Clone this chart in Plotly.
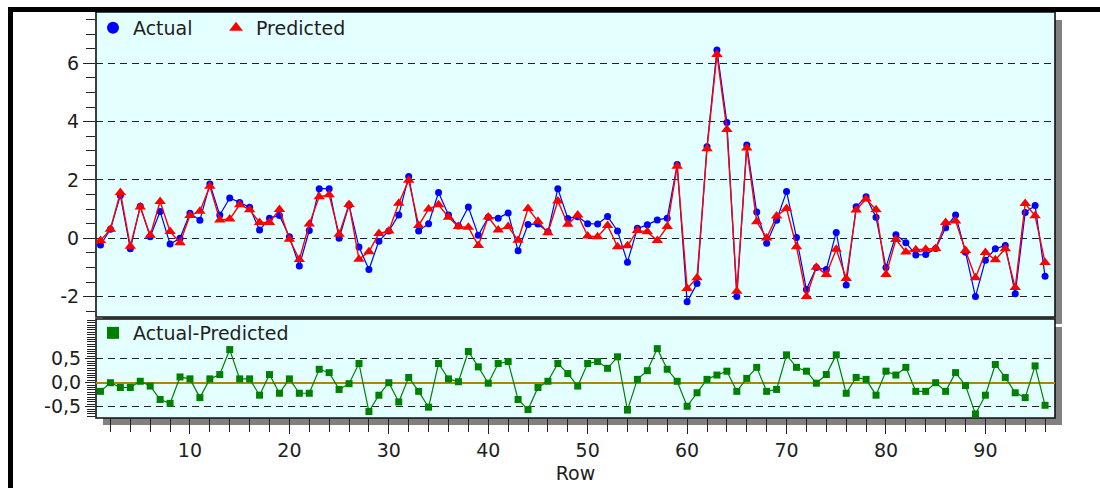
import plotly.graph_objects as go

rows = list(range(1, 97))

actual = [
    -0.23, 0.31, 1.47, -0.36, 1.10, 0.05, 0.92, -0.20, 0.00, 0.86,
    0.62, 1.86, 0.80, 1.38, 1.23, 1.06, 0.28, 0.69, 0.78, 0.05,
    -0.95, 0.27, 1.70, 1.70, 0.00, 1.14, -0.30, -1.07, -0.10, 0.25,
    0.80, 2.12, 0.25, 0.50, 1.57, 0.80, 0.42, 1.07, 0.10, 0.72,
    0.69, 0.87, -0.43, 0.47, 0.49, 0.22, 1.70, 0.68, 0.74, 0.50,
    0.49, 0.75, 0.25, -0.82, 0.34, 0.46, 0.63, 0.69, 2.53, -2.18,
    -1.55, 3.14, 6.46, 3.97, -2.00, 3.20, 0.90, -0.17, 0.62, 1.60,
    0.03, -1.76, -1.00, -1.07, 0.20, -1.60, 1.08, 1.42, 0.72, -1.00,
    0.12, -0.15, -0.57, -0.56, -0.35, 0.36, 0.80, -0.48, -2.00, -0.75,
    -0.36, -0.25, -1.90, 0.88, 1.12, -1.30,
]

predicted = [
    -0.08, 0.31, 1.57, -0.27, 1.07, 0.10, 1.26, 0.23, -0.15, 0.78,
    0.93, 1.78, 0.63, 0.66, 1.15, 0.98, 0.54, 0.54, 0.99, -0.03,
    -0.73, 0.49, 1.42, 1.49, 0.14, 1.16, -0.72, -0.46, 0.16, 0.25,
    1.20, 1.99, 0.44, 1.00, 1.15, 0.72, 0.40, 0.38, -0.25, 0.73,
    0.28, 0.40, -0.07, 1.02, 0.58, 0.19, 1.28, 0.48, 0.80, 0.08,
    0.05, 0.44, -0.29, -0.26, 0.27, 0.22, -0.08, 0.40, 2.47, -1.72,
    -1.35, 3.07, 6.30, 3.73, -1.82, 3.10, 0.57, 0.01, 0.76, 1.02,
    -0.29, -2.00, -0.99, -1.24, -0.38, -1.38, 0.97, 1.35, 0.98, -1.24,
    -0.04, -0.47, -0.39, -0.38, -0.35, 0.54, 0.59, -0.42, -1.35, -0.49,
    -0.74, -0.36, -1.69, 1.19, 0.77, -0.83,
]

residual = [
    -0.18, 0.00, -0.10, -0.10, 0.03, -0.07, -0.35, -0.43, 0.12, 0.08,
    -0.31, 0.08, 0.17, 0.69, 0.08, 0.08, -0.26, 0.17, -0.22, 0.08,
    -0.22, -0.22, 0.28, 0.21, -0.14, -0.02, 0.40, -0.60, -0.26, 0.00,
    -0.40, 0.11, -0.18, -0.51, 0.40, 0.08, 0.02, 0.65, 0.33, -0.01,
    0.40, 0.44, -0.35, -0.56, -0.10, 0.03, 0.40, 0.19, -0.07, 0.40,
    0.44, 0.30, 0.54, -0.57, 0.07, 0.25, 0.71, 0.28, 0.03, -0.49,
    -0.21, 0.07, 0.16, 0.24, -0.18, 0.09, 0.32, -0.18, -0.14, 0.58,
    0.32, 0.24, -0.01, 0.17, 0.58, -0.22, 0.11, 0.07, -0.26, 0.24,
    0.16, 0.32, -0.18, -0.18, 0.00, -0.18, 0.21, -0.06, -0.65, -0.26,
    0.38, 0.11, -0.21, -0.31, 0.35, -0.47,
]

top_tickvals = [-2, 0, 2, 4, 6]
top_ticktext = ["-2", "0", "2", "4", "6"]
bot_tickvals = [-0.5, 0.0, 0.5]
bot_ticktext = ["-0,5", "0,0", "0,5"]
x_tickvals = [10, 20, 30, 40, 50, 60, 70, 80, 90]

W, H = 1100, 488
FONT = "DejaVu Sans"
TXT = "#1e1e1e"


def fx(p):
    return p / W


def fy(p):
    return 1 - p / H


# panel pixel boxes (left, top, right, bottom)
TOP = (96, 12, 1055, 317)
BOT = (96, 319, 1055, 418)

fig = go.Figure()

series = [
    ("Actual", actual, "#0000FF", "circle", 7, 1.2, "x", "y", "legend", 78),
    ("Predicted", predicted, "#FF0000", "triangle-up", 10, 1.4, "x", "y", "legend", 110),
    ("Actual-Predicted", residual, "#008000", "square", 7, 1.2, "x2", "y2", "legend2", 180),
]
for name, vals, col, sym, msize, lw, xa, ya, leg, lwid in series:
    fig.add_trace(go.Scatter(
        x=rows, y=vals, name=name, mode="lines", showlegend=False,
        line=dict(color=col, width=lw), xaxis=xa, yaxis=ya, hoverinfo="skip",
    ))
    fig.add_trace(go.Scatter(
        x=rows, y=vals, name=name, mode="markers",
        marker=dict(symbol=sym, size=msize, color=col),
        xaxis=xa, yaxis=ya, legend=leg, legendwidth=lwid,
    ))

xrange = [0.55, 97.0]
grid_dash = "7px,5px"

shapes = []
# shadows
for (l, t, r, b) in (TOP, BOT):
    shapes.append(dict(type="rect", xref="paper", yref="paper", layer="below",
                       x0=fx(l + 7), x1=fx(r + 7), y0=fy(t + 8), y1=fy(b + 7),
                       fillcolor="#808080", line=dict(width=0)))
# panels
for (l, t, r, b) in (TOP, BOT):
    shapes.append(dict(type="rect", xref="paper", yref="paper", layer="below",
                       x0=fx(l), x1=fx(r), y0=fy(b), y1=fy(t),
                       fillcolor="#E4FFFF", line=dict(color="#101010", width=1.6)))
# outer black frame (top and left bars)
shapes.append(dict(type="rect", xref="paper", yref="paper", layer="above",
                   x0=fx(8), x1=fx(1100), y0=fy(12), y1=fy(7),
                   fillcolor="black", line=dict(width=0)))
shapes.append(dict(type="rect", xref="paper", yref="paper", layer="above",
                   x0=fx(8), x1=fx(13), y0=fy(488), y1=fy(7),
                   fillcolor="black", line=dict(width=0)))

legend_common = dict(
    xanchor="left", yanchor="top", orientation="h",
    bgcolor="rgba(0,0,0,0)", borderwidth=0,
    font=dict(family=FONT, size=19, color=TXT),
    itemsizing="constant", entrywidthmode="pixels",
)

fig.update_layout(
    width=W, height=H,
    margin=dict(l=0, r=0, t=0, b=0),
    paper_bgcolor="white",
    plot_bgcolor="rgba(0,0,0,0)",
    separators=",.",
    font=dict(family=FONT, size=19, color=TXT),
    shapes=shapes,
    xaxis=dict(
        domain=[fx(TOP[0]), fx(TOP[2])], range=xrange, anchor="y",
        showticklabels=False, ticks="", showgrid=False, zeroline=False,
        showline=False, fixedrange=True,
    ),
    yaxis=dict(
        domain=[fy(TOP[3]), fy(TOP[1])], range=[-2.70, 7.76], anchor="x",
        tickmode="array", tickvals=top_tickvals, ticktext=top_ticktext,
        ticks="outside", ticklen=12, tickwidth=1, tickcolor="#222",
        minor=dict(dtick=0.5, tick0=0, ticks="outside", ticklen=9,
                   tickcolor="#222", showgrid=False),
        showgrid=True, gridcolor="#222", gridwidth=1, griddash=grid_dash,
        zeroline=False, showline=False,
        tickfont=dict(family=FONT, size=19, color=TXT),
    ),
    xaxis2=dict(
        domain=[fx(BOT[0]), fx(BOT[2])], range=xrange, anchor="y2",
        tickmode="array", tickvals=x_tickvals,
        ticks="outside", ticklen=15, tickwidth=1, tickcolor="#222",
        minor=dict(dtick=2, tick0=0, ticks="outside", ticklen=13,
                   tickcolor="#222", showgrid=False),
        showgrid=False, zeroline=False, showline=False,
        tickfont=dict(family=FONT, size=19, color=TXT),
        title=dict(text="Row", font=dict(family=FONT, size=19, color=TXT), standoff=6),
    ),
    yaxis2=dict(
        domain=[fy(BOT[3]), fy(BOT[1])], range=[-0.735, 1.327], anchor="x2",
        tickmode="array", tickvals=bot_tickvals, ticktext=bot_ticktext,
        ticks="outside", ticklen=10, tickwidth=1, tickcolor="#222",
        minor=dict(dtick=0.05, tick0=0, ticks="outside", ticklen=8,
                   tickcolor="#222", showgrid=False),
        showgrid=True, gridcolor="#222", gridwidth=1, griddash=grid_dash,
        zeroline=True, zerolinecolor="#A08C00", zerolinewidth=1.6,
        showline=False,
        tickfont=dict(family=FONT, size=19, color=TXT),
    ),
    legend=dict(x=fx(93), y=fy(9), **legend_common),
    legend2=dict(x=fx(93), y=fy(314), **legend_common),
    showlegend=True,
)

fig.write_html("out.html")
